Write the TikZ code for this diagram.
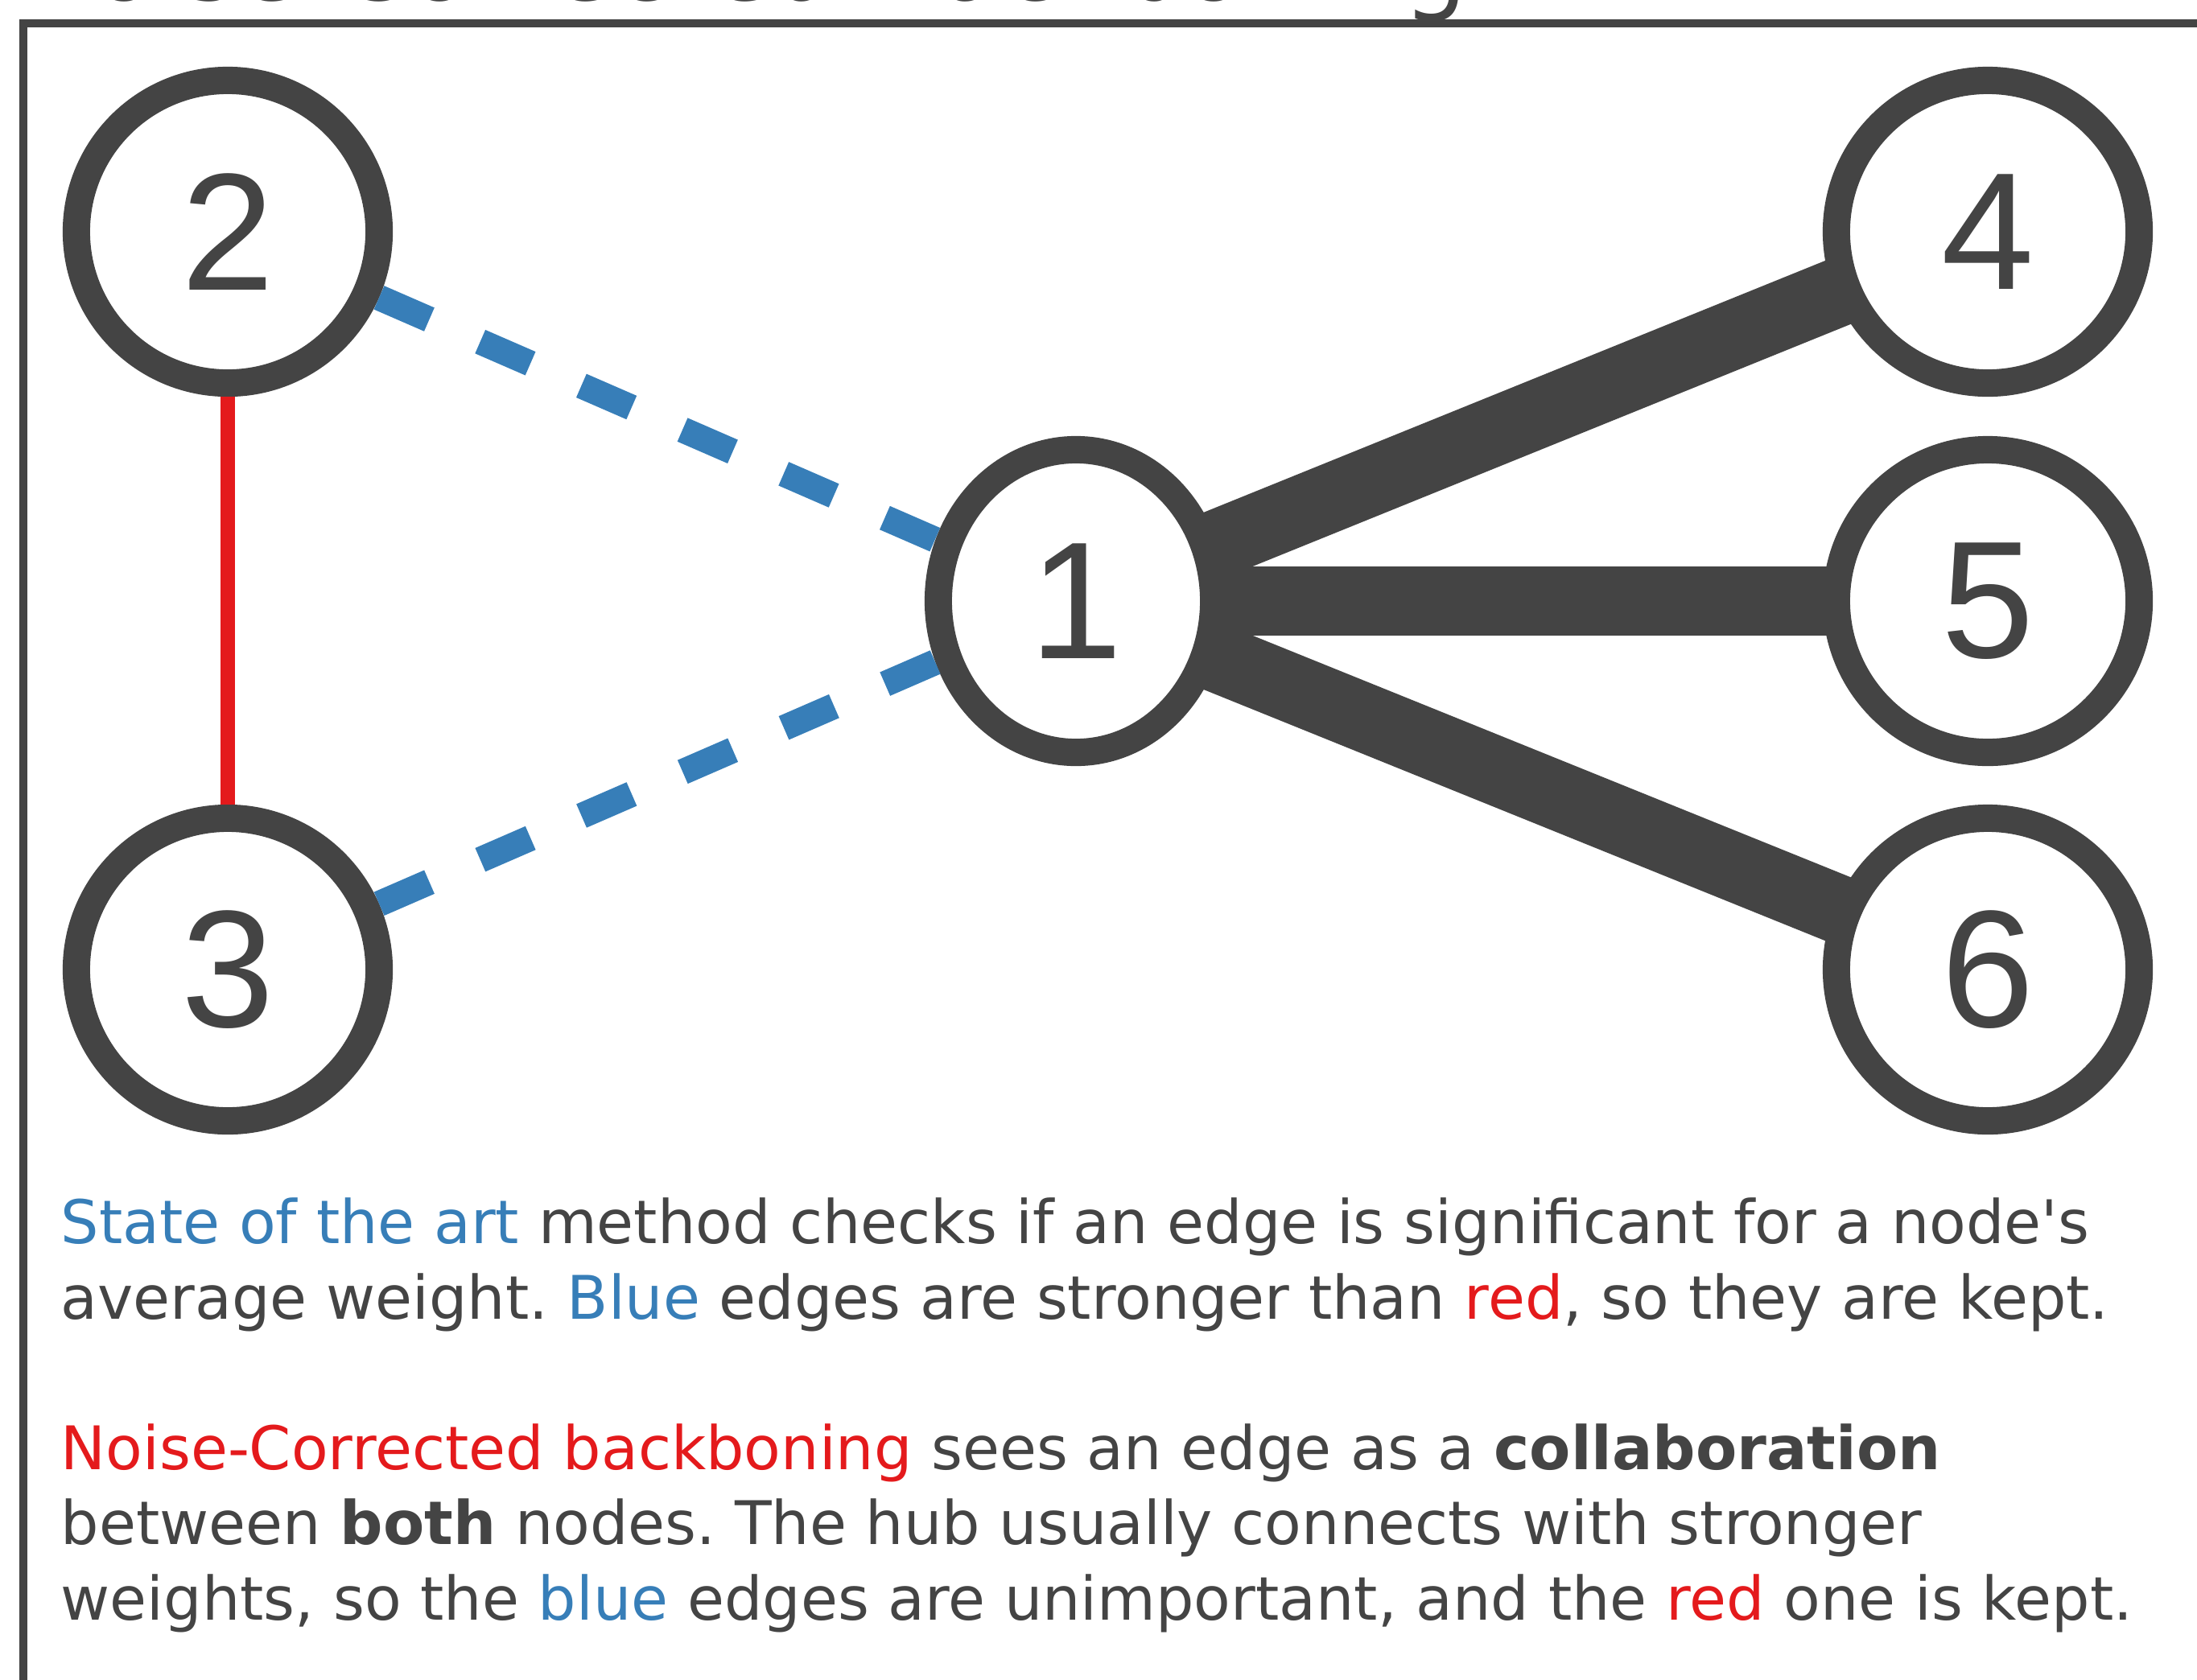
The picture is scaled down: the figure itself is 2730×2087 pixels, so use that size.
\documentclass[tikz,border=0pt]{standalone}
\usepackage{fontspec}
\setmainfont{DejaVu Sans}
\newfontfamily\digitfont{Liberation Sans}
\usetikzlibrary{shapes.geometric}
\frenchspacing

\begin{document}
\begin{tikzpicture}[x=0.01cm, y=-0.01cm,
	vertex/.style={circle, draw=dgray, line width=0.34cm, minimum size=3.76cm, inner sep=0pt, text=dgray, font=\digitfont\fontsize{59pt}{60pt}\selectfont},
	hub/.style={vertex, ellipse, minimum width=3.42cm, minimum height=3.76cm},
	strong/.style={draw=dgray, line width=0.85cm, shorten <=-0.1cm, shorten >=-0.1cm},
	weak/.style={draw=sblue, line width=0.32cm, dash pattern=on 0.68cm off 0.69cm},
	kept/.style={draw=sred, line width=0.17cm},
	txt/.style={anchor=base west, inner sep=0pt, text=dgray, font=\fontsize{21.25pt}{26pt}\selectfont}]
	\definecolor{dgray}{RGB}{68,68,68}
	\definecolor{sblue}{RGB}{55,126,184}
	\definecolor{sred}{RGB}{228,26,28}
	\useasboundingbox (0,0) rectangle (2730,2087);
	\node (title) at (20,0) [anchor=base west, inner sep=0pt, text=dgray, font=\fontsize{36.1pt}{40pt}\selectfont]{Noise-Corrected Backboning};
	\draw[dgray, line width=0.1cm] (29,29) rectangle (2800,2150);
	\node (n1) at (1337,747) [hub]{1};
	\node (n2) at (283,288) [vertex]{2};
	\node (n3) at (283,1205) [vertex]{3};
	\node (n4) at (2470,288) [vertex]{4};
	\node (n5) at (2470,747) [vertex]{5};
	\node (n6) at (2470,1205) [vertex]{6};
	\draw[kept] (n2) -- (n3);
	\draw[weak] (n2) -- (n1);
	\draw[weak] (n3) -- (n1);
	\draw[strong] (n1) -- (n4);
	\draw[strong] (n1) -- (n5);
	\draw[strong] (n1) -- (n6);
	\node (l1) at (75,1545) [txt]{{\color{sblue}State of the art} method checks if an edge is significant for a node\textquotesingle s};
	\node (l2) at (75,1639) [txt]{average weight. {\color{sblue}Blue} edges are stronger than {\color{sred}red}, so they are kept.};
	\node (l3) at (75,1826) [txt]{{\color{sred}Noise-Corrected backboning} sees an edge as a \textbf{collaboration}};
	\node (l4) at (75,1919) [txt]{between \textbf{both} nodes. The hub usually connects with stronger};
	\node (l5) at (75,2013) [txt]{weights, so the {\color{sblue}blue} edges are unimportant, and the {\color{sred}red} one is kept.};
\end{tikzpicture}
\end{document}
